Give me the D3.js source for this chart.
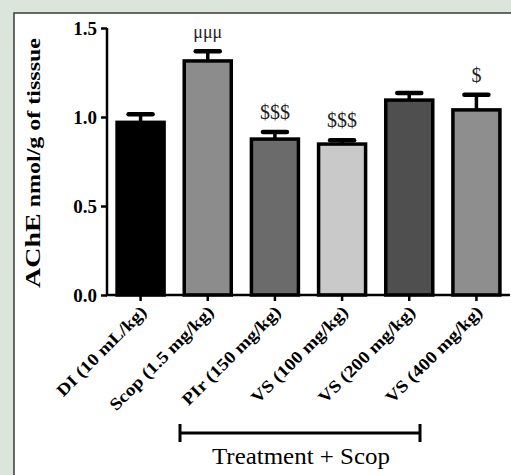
<!DOCTYPE html>
<html><head><meta charset="utf-8">
<script src="https://cdn.jsdelivr.net/npm/d3@7"></script>
<style>html,body{margin:0;padding:0;background:#dbe5dc;} svg{display:block;}</style>
</head><body>
<svg id="c" width="511" height="475"></svg>
<script>
const categories = ["DI (10 mL/kg)", "Scop (1.5 mg/kg)", "PIr (150 mg/kg)", "VS (100 mg/kg)", "VS (200 mg/kg)", "VS (400 mg/kg)"];
const means = [0.97, 1.315, 0.876, 0.848, 1.095, 1.04];
const errors = [0.045, 0.055, 0.04, 0.022, 0.04, 0.085];
const marks = ["", "μμμ", "$$$", "$$$", "", "$"];
const barColors = ["#000000", "#8c8c8c", "#6b6b6b", "#c9c9c9", "#4f4f4f", "#8e8e8e"];
const yTicks = [0, 0.5, 1.0, 1.5];
const yTickLabels = ["0.0", "0.5", "1.0", "1.5"];

const svg = d3.select("#c");
svg.append("rect").attr("x", 0).attr("y", 0).attr("width", 511).attr("height", 475).attr("fill", "#dbe5dc");
svg.append("rect").attr("x", 14).attr("y", 13).attr("width", 520).attr("height", 480)
  .attr("fill", "#ffffff").attr("stroke", "#3a3a3a").attr("stroke-width", 1.5);

const y = d3.scaleLinear().domain([0, 1.5]).range([295, 28]);
const x = d3.scaleBand().domain(categories).range([107, 510]).paddingInner(0.3).paddingOuter(0.15);
const serif = "'Liberation Serif','Times New Roman',serif";

// bars
svg.selectAll("rect.bar").data(categories).enter().append("rect")
  .attr("class", "bar")
  .attr("x", d => x(d))
  .attr("y", (d, i) => y(means[i]))
  .attr("width", x.bandwidth())
  .attr("height", (d, i) => y(0) - y(means[i]))
  .attr("fill", (d, i) => barColors[i])
  .attr("stroke", "#000").attr("stroke-width", 3.5);

// error bars
categories.forEach((c, i) => {
  const cx = x(c) + x.bandwidth() / 2;
  svg.append("line").attr("x1", cx).attr("x2", cx)
    .attr("y1", y(means[i])).attr("y2", y(means[i] + errors[i]))
    .attr("stroke", "#000").attr("stroke-width", 3.5);
  svg.append("line").attr("x1", cx - 12).attr("x2", cx + 12)
    .attr("y1", y(means[i] + errors[i])).attr("y2", y(means[i] + errors[i]))
    .attr("stroke", "#000").attr("stroke-width", 4.5).attr("stroke-linecap", "round");
  if (marks[i]) {
    const isMu = marks[i][0] === "μ";
    svg.append("text").attr("x", cx).attr("y", y(means[i] + errors[i]) - (isMu ? 13 : 13))
      .attr("text-anchor", "middle").attr("font-family", serif)
      .attr("font-size", isMu ? 18 : 20)
      .attr("fill", "#222").text(marks[i]);
  }
});

// y axis
const yAxis = d3.axisLeft(y).tickValues(yTicks).tickFormat((d, i) => yTickLabels[i]).tickSize(6).tickPadding(4);
const gy = svg.append("g").attr("transform", "translate(107,0)").call(yAxis);
gy.select(".domain").attr("stroke", "#000").attr("stroke-width", 2.5).attr("d", "M0,28V295");
gy.selectAll(".tick line").attr("stroke", "#000").attr("stroke-width", 2.5);
gy.selectAll(".tick text").attr("font-family", serif).attr("font-weight", "bold")
  .attr("font-size", 19).attr("fill", "#000");

// x axis
const xAxis = d3.axisBottom(x).tickSize(6).tickFormat("");
const gx = svg.append("g").attr("transform", "translate(0,295)").call(xAxis);
gx.select(".domain").attr("stroke", "#000").attr("stroke-width", 2.5).attr("d", "M106,0H510");
gx.selectAll(".tick line").attr("stroke", "#000").attr("stroke-width", 2.5);

// x labels rotated
categories.forEach(c => {
  const cx = x(c) + x.bandwidth() / 2;
  svg.append("text")
    .attr("transform", `translate(${cx + 7},${313}) rotate(-45) scale(1.15,1)`)
    .attr("text-anchor", "end").attr("font-family", serif).attr("font-weight", "bold")
    .attr("font-size", 17).attr("fill", "#000").text(c);
});

// bracket
const bx1 = 180, bx2 = 420, by = 433;
svg.append("line").attr("x1", bx1).attr("x2", bx2).attr("y1", by).attr("y2", by).attr("stroke", "#000").attr("stroke-width", 3);
[bx1, bx2].forEach(bx => svg.append("line").attr("x1", bx).attr("x2", bx).attr("y1", by - 9).attr("y2", by + 9).attr("stroke", "#000").attr("stroke-width", 3));
svg.append("text").attr("x", 301).attr("y", 464).attr("text-anchor", "middle")
  .attr("font-family", serif).attr("font-size", 23).attr("fill", "#000")
  .attr("textLength", 178).attr("lengthAdjust", "spacingAndGlyphs").text("Treatment + Scop");

// y label
const yl = svg.append("text").attr("transform", "translate(40,163) rotate(-90)")
  .attr("text-anchor", "middle").attr("font-family", serif).attr("font-weight", "bold").attr("fill", "#000")
  .attr("textLength", 250).attr("lengthAdjust", "spacingAndGlyphs");
yl.append("tspan").attr("font-size", 21).text("AChE");
yl.append("tspan").attr("font-size", 18).text(" nmol/g of tisssue");
</script>
</body></html>
